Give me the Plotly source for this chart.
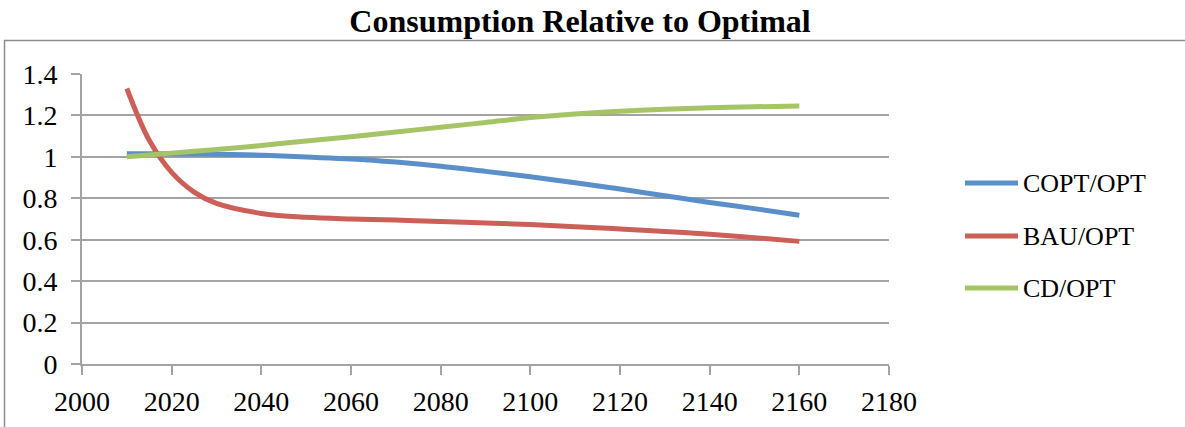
import plotly.graph_objects as go

# Years of the model periods
years = [2010, 2015, 2020, 2025, 2030, 2040, 2050, 2060, 2070, 2080,
         2090, 2100, 2110, 2120, 2130, 2140, 2150, 2160]

# Consumption ratios relative to the optimal path
copt_opt = [1.015, 1.015, 1.015, 1.014, 1.013, 1.008, 0.999, 0.990, 0.975, 0.955,
            0.930, 0.904, 0.875, 0.845, 0.812, 0.780, 0.750, 0.718]
bau_opt = [1.330, 1.080, 0.925, 0.830, 0.775, 0.727, 0.708, 0.700, 0.695, 0.688,
           0.681, 0.673, 0.663, 0.652, 0.640, 0.626, 0.610, 0.592]
cd_opt = [1.000, 1.009, 1.018, 1.027, 1.035, 1.055, 1.076, 1.097, 1.120, 1.143,
          1.166, 1.190, 1.207, 1.220, 1.230, 1.237, 1.242, 1.245]

series_names = ["COPT/OPT", "BAU/OPT", "CD/OPT"]
series_values = [copt_opt, bau_opt, cd_opt]
series_colors = ["#5A8FCA", "#CC5F57", "#A4C466"]

x_ticks = [2000, 2020, 2040, 2060, 2080, 2100, 2120, 2140, 2160, 2180]
y_ticks = [0, 0.2, 0.4, 0.6, 0.8, 1, 1.2, 1.4]
y_tick_text = ["0", "0.2", "0.4", "0.6", "0.8", "1", "1.2", "1.4"]

W, H = 1185, 427
L, R, T, B = 82, 296, 74, 63
PW, PH = W - L - R, H - T - B
GRID = "#A3A3A3"
FONT = "Liberation Serif"


def px_x(px):
    return (px - L) / PW


def px_y(py):
    return (H - B - py) / PH


fig = go.Figure()
for name, vals, col in zip(series_names, series_values, series_colors):
    fig.add_trace(go.Scatter(
        x=years, y=vals, name=name, mode="lines",
        line=dict(color=col, width=5, shape="spline", smoothing=1.0),
        showlegend=False,
    ))

shapes = [
    # chart area frame
    dict(type="rect", xref="paper", yref="paper",
         x0=px_x(4.5), x1=px_x(1200), y0=px_y(40.5), y1=px_y(440),
         line=dict(color="#8C8C8C", width=1.5), layer="below"),
]
annotations = []

# legend entries
legend_rows = [183, 236, 288]
for name, col, ry in zip(series_names, series_colors, legend_rows):
    shapes.append(dict(type="line", xref="paper", yref="paper",
                       x0=px_x(965), x1=px_x(1018), y0=px_y(ry), y1=px_y(ry),
                       line=dict(color=col, width=5)))
    annotations.append(dict(text=name, xref="paper", yref="paper",
                            x=px_x(1021), y=px_y(ry), xanchor="left",
                            yanchor="middle", showarrow=False,
                            font=dict(family=FONT, size=26, color="#000000")))

tick_font = dict(family=FONT, size=28, color="#000000")

fig.update_layout(
    width=W, height=H,
    margin=dict(l=L, r=R, t=T, b=B, autoexpand=False),
    paper_bgcolor="white", plot_bgcolor="white",
    font=dict(family=FONT, size=26, color="#000000"),
    title=dict(text="<b>Consumption Relative to Optimal</b>",
               font=dict(family=FONT, size=32, color="#000000"),
               xref="container", x=580 / W, xanchor="center",
               yref="container", y=1 - 10 / H, yanchor="top"),
    xaxis=dict(range=[2000, 2180], tickmode="array", tickvals=x_ticks,
               ticktext=[str(v) for v in x_ticks],
               showgrid=False, zeroline=False,
               showline=True, linecolor=GRID, linewidth=2,
               ticks="outside", ticklen=9, tickwidth=2, tickcolor=GRID,
               tickfont=tick_font, ticklabelstandoff=2, automargin=False),
    yaxis=dict(range=[0, 1.4], tickmode="array", tickvals=y_ticks,
               ticktext=y_tick_text,
               showgrid=True, gridcolor=GRID, gridwidth=2, zeroline=False,
               showline=True, linecolor=GRID, linewidth=2,
               ticks="outside", ticklen=9, tickwidth=2, tickcolor=GRID,
               tickfont=tick_font, ticklabelstandoff=8, automargin=False),
    shapes=shapes,
    annotations=annotations,
)

fig.write_html("out.html")
